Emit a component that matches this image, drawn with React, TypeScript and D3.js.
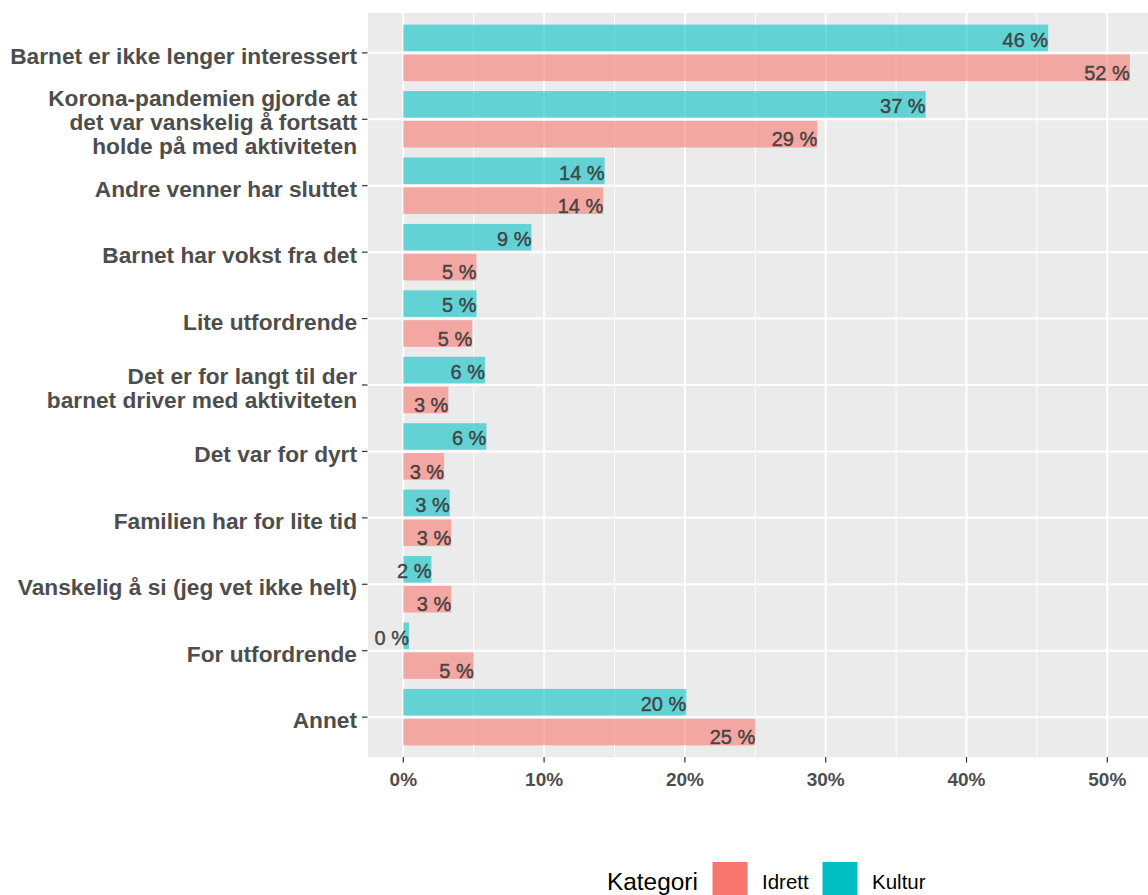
import React from 'react';
import * as d3 from 'd3';

const categories = [
  'Barnet er ikke lenger interessert',
  'Korona-pandemien gjorde at\ndet var vanskelig å fortsatt\nholde på med aktiviteten',
  'Andre venner har sluttet',
  'Barnet har vokst fra det',
  'Lite utfordrende',
  'Det er for langt til der\nbarnet driver med aktiviteten',
  'Det var for dyrt',
  'Familien har for lite tid',
  'Vanskelig å si (jeg vet ikke helt)',
  'For utfordrende',
  'Annet',
];
const idrett = [51.6, 29.4, 14.2, 5.2, 4.9, 3.2, 2.9, 3.4, 3.4, 5.0, 25.0];
const kultur = [45.8, 37.1, 14.3, 9.1, 5.2, 5.8, 5.9, 3.3, 2.0, 0.4, 20.1];
const majorTicks = [0, 10, 20, 30, 40, 50];
const minorTicks = [5, 15, 25, 35, 45, 55];
const seriesNames = ['Idrett', 'Kultur'];
const seriesColors = ['#F8766D', '#00BFC4'];

const W = 1148;
const H = 895;
const panel = { left: 368, top: 13, right: 1160, bottom: 757 };

export default function App() {
  const x = d3.scaleLinear().domain([0, 50]).range([403.3, 1107.3]);
  const y = d3
    .scaleBand<string>()
    .domain(categories)
    .range([panel.top, panel.bottom])
    .paddingInner(0)
    .paddingOuter(0.1);
  const step = y.step();
  const center = (c: string) => (y(c) as number) + y.bandwidth() / 2;
  const barH = 0.4 * step;
  const off = 0.225 * step;
  const labelFont = '"Liberation Sans", Arial, sans-serif';

  return (
    <svg
      width={W}
      height={H}
      style={{ position: 'absolute', left: 0, top: 0, background: '#fff' }}
    >
      <rect
        x={panel.left}
        y={panel.top}
        width={panel.right - panel.left}
        height={panel.bottom - panel.top}
        fill="#EBEBEB"
      />
      {minorTicks.map((t) => (
        <line
          key={'mn' + t}
          x1={x(t)}
          x2={x(t)}
          y1={panel.top}
          y2={panel.bottom}
          stroke="#fff"
          strokeWidth={1}
        />
      ))}
      {majorTicks.map((t) => (
        <line
          key={'mj' + t}
          x1={x(t)}
          x2={x(t)}
          y1={panel.top}
          y2={panel.bottom}
          stroke="#fff"
          strokeWidth={2}
        />
      ))}
      {categories.map((c) => (
        <line
          key={'hg' + c}
          x1={panel.left}
          x2={panel.right}
          y1={center(c)}
          y2={center(c)}
          stroke="#fff"
          strokeWidth={2}
        />
      ))}
      {categories.map((c, i) => {
        const cy = center(c);
        const vals = [idrett[i], kultur[i]];
        return (
          <g key={'b' + c}>
            {vals.map((v, s) => {
              const yc = s === 1 ? cy - off : cy + off;
              return (
                <rect
                  key={s}
                  x={x(0)}
                  y={yc - barH / 2}
                  width={x(v) - x(0)}
                  height={barH}
                  fill={seriesColors[s]}
                  fillOpacity={0.58}
                />
              );
            })}
          </g>
        );
      })}
      {categories.map((c, i) => {
        const cy = center(c);
        const vals = [idrett[i], kultur[i]];
        return (
          <g key={'l' + c}>
            {vals.map((v, s) => {
              const yc = s === 1 ? cy - 16.6 : cy + 16.6;
              return (
                <text
                  key={s}
                  x={x(v)}
                  y={yc + 10.5}
                  textAnchor="end"
                  fontFamily={labelFont}
                  fontSize={20}
                  fill="#3a3a3a"
                  stroke="#3a3a3a"
                  strokeWidth={0.5}
                  fillOpacity={0.9}
                  strokeOpacity={0.9}
                >
                  {Math.round(v) + ' %'}
                </text>
              );
            })}
          </g>
        );
      })}
      {categories.map((c) => {
        const cy = center(c);
        const lines = c.split('\n');
        const n = lines.length;
        return (
          <g key={'yl' + c}>
            <line x1={362} x2={367.5} y1={cy} y2={cy} stroke="#333" strokeWidth={1.2} />
            {lines.map((ln, k) => (
              <text
                key={k}
                x={357}
                y={cy + 11 + (k - (n - 1) / 2) * 24}
                textAnchor="end"
                fontFamily={labelFont}
                fontWeight="bold"
                fontSize={22.7}
                fill="#4D4D4D"
              >
                {ln}
              </text>
            ))}
          </g>
        );
      })}
      {majorTicks.map((t) => (
        <g key={'xt' + t}>
          <line
            x1={x(t)}
            x2={x(t)}
            y1={panel.bottom}
            y2={panel.bottom + 5.5}
            stroke="#333"
            strokeWidth={1.2}
          />
          <text
            x={x(t)}
            y={786}
            textAnchor="middle"
            fontFamily={labelFont}
            fontWeight="bold"
            fontSize={19}
            fill="#4D4D4D"
          >
            {t + '%'}
          </text>
        </g>
      ))}
      <text x={607} y={890} fontFamily={labelFont} fontSize={24.4} fill="#000">
        Kategori
      </text>
      {seriesNames.map((s, i) => {
        const kx = [712.5, 822.5][i];
        const tx = [762, 872][i];
        return (
          <g key={'lg' + s}>
            <rect x={kx} y={862} width={35} height={35} fill={seriesColors[i]} />
            <text x={tx} y={889} fontFamily={labelFont} fontSize={20.5} fill="#000">
              {s}
            </text>
          </g>
        );
      })}
    </svg>
  );
}
